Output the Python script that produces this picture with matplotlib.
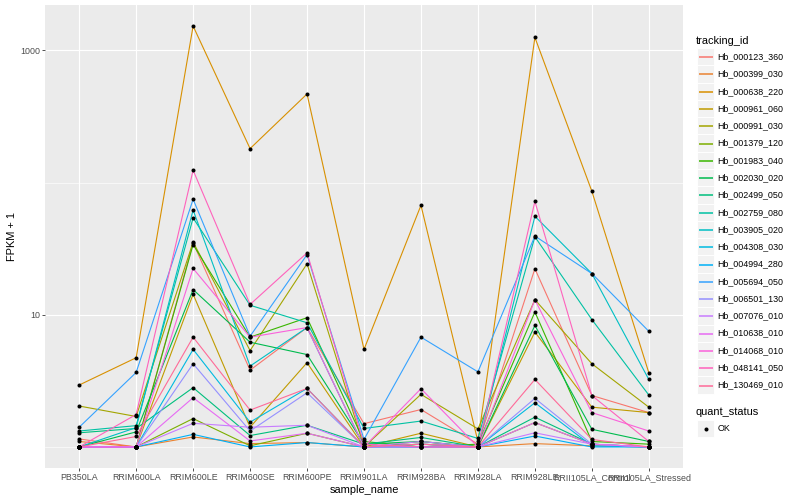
import numpy as np
import matplotlib
matplotlib.use("Agg")
import matplotlib.pyplot as plt
from matplotlib.patches import Rectangle

plt.rcParams['font.family'] = ['Liberation Sans', 'DejaVu Sans']

samples = ["PB350LA", "RRIM600LA", "RRIM600LE", "RRIM600SE", "RRIM600PE",
           "RRIM901LA", "RRIM928BA", "RRIM928LA", "RRIM928LE",
           "RRII105LA_Control", "RRII105LA_Stressed"]

tracking_ids = ["Hb_000123_360", "Hb_000399_030", "Hb_000638_220", "Hb_000961_060",
                "Hb_000991_030", "Hb_001379_120", "Hb_001983_040", "Hb_002030_020",
                "Hb_002499_050", "Hb_002759_080", "Hb_003905_020", "Hb_004308_030",
                "Hb_004994_280", "Hb_005694_050", "Hb_006501_130", "Hb_007076_010",
                "Hb_010638_010", "Hb_014068_010", "Hb_048141_050", "Hb_130469_010"]

# FPKM + 1, one row per tracking_id, columns follow samples
fpkm1 = [
    [1.15, 1.00, 35.0, 3.81, 8.0, 1.50, 1.92, 1.05, 22.3, 2.45, 1.82],
    [1.10, 1.00, 1.19, 1.06, 1.08, 1.00, 1.05, 1.00, 1.06, 1.02, 1.00],
    [2.94, 4.73, 1528, 180.7, 468, 5.47, 67.3, 1.10, 1253, 86.0, 3.64],
    [1.00, 1.00, 14.3, 1.41, 4.34, 1.00, 1.27, 1.00, 7.4, 2.00, 1.82],
    [2.04, 1.70, 35.5, 5.36, 24.3, 1.00, 2.50, 1.37, 13.0, 4.26, 2.00],
    [1.00, 1.00, 1.64, 1.02, 1.27, 1.00, 1.10, 1.00, 1.53, 1.05, 1.00],
    [1.00, 1.00, 34.0, 6.77, 9.5, 1.10, 1.00, 1.05, 10.5, 1.10, 1.05],
    [1.00, 1.30, 15.5, 6.2, 5.0, 1.05, 1.10, 1.00, 8.3, 1.36, 1.10],
    [1.28, 1.38, 2.81, 1.22, 1.46, 1.05, 1.18, 1.00, 1.68, 1.05, 1.00],
    [1.32, 1.45, 54.0, 11.8, 8.7, 1.38, 1.57, 1.16, 38.9, 9.2, 2.47],
    [1.00, 1.40, 62.0, 4.09, 8.0, 1.00, 1.05, 1.00, 55.6, 20.5, 3.24],
    [1.00, 1.00, 5.47, 1.54, 2.77, 1.00, 1.00, 1.00, 2.16, 1.02, 1.00],
    [1.00, 1.00, 1.245, 1.00, 1.08, 1.00, 1.00, 1.00, 1.21, 1.00, 1.00],
    [1.41, 3.66, 74.8, 6.88, 28.5, 1.14, 6.77, 3.70, 39.4, 20.5, 7.5],
    [1.00, 1.00, 4.26, 1.32, 2.57, 1.00, 1.05, 1.00, 2.33, 1.05, 1.00],
    [1.00, 1.00, 1.51, 1.41, 1.46, 1.00, 1.10, 1.00, 1.28, 1.05, 1.00],
    [1.00, 1.00, 2.36, 1.11, 1.27, 1.00, 1.00, 1.00, 1.53, 1.05, 1.00],
    [1.00, 1.00, 22.4, 6.77, 8.0, 1.00, 2.76, 1.00, 13.0, 1.82, 1.32],
    [1.00, 1.76, 124.0, 11.97, 29.4, 1.05, 1.00, 1.00, 72.0, 2.45, 1.10],
    [1.00, 1.20, 6.77, 1.90, 2.77, 1.00, 1.05, 1.00, 3.24, 1.14, 1.00],
]

quant_status = ["OK"]


def hue_pal(n, c=100, l=65):
    # ggplot2 default discrete palette, polar Luv -> sRGB
    hues = np.linspace(15, 375, n + 1)[:n]
    xn, yn, zn = 95.047, 100.0, 108.883
    un = 4 * xn / (xn + 15 * yn + 3 * zn)
    vn = 9 * yn / (xn + 15 * yn + 3 * zn)
    out = []
    for h in hues:
        u = c * np.cos(np.radians(h))
        v = c * np.sin(np.radians(h))
        y = yn * ((l + 16) / 116) ** 3
        up = u / (13 * l) + un
        vp = v / (13 * l) + vn
        x = y * 9 * up / (4 * vp)
        z = y * (12 - 3 * up - 20 * vp) / (4 * vp)
        xyz = np.array([x, y, z]) / 100
        m = np.array([[3.2404542, -1.5371385, -0.4985314],
                      [-0.9692660, 1.8760108, 0.0415560],
                      [0.0556434, -0.2040259, 1.0572252]])
        rgb = m @ xyz
        rgb = np.where(rgb <= 0.0031308, 12.92 * rgb,
                       1.055 * np.power(np.clip(rgb, 0, None), 1 / 2.4) - 0.055)
        out.append(tuple(np.clip(rgb, 0, 1)))
    return out


colors = hue_pal(len(tracking_ids))

fig = plt.figure(figsize=(8, 5), dpi=100)
fig.patch.set_facecolor("white")
ax = fig.add_axes([45 / 800, 32 / 500, 638 / 800, 463 / 500])
ax.set_facecolor("#EBEBEB")

xs = np.arange(len(samples))
for vals, col in zip(fpkm1, colors):
    ax.plot(xs, vals, color=col, lw=0.8, zorder=3, solid_capstyle="butt")
for vals in fpkm1:
    ax.plot(xs, vals, "o", color="black", ms=2.9, mew=0, zorder=4)

ax.set_yscale("log")
allv = np.log10(np.array(fpkm1))
lo, hi = allv.min(), allv.max()
pad = 0.05 * (hi - lo)
ax.set_ylim(10 ** (lo - pad), 10 ** (hi + pad))
ax.set_xlim(-0.6, len(samples) - 0.4)

ax.set_yticks([10, 1000])
ax.set_yticklabels(["10", "1000"])
ax.set_yticks([1, 100], minor=True)
ax.yaxis.set_minor_formatter(matplotlib.ticker.NullFormatter())
ax.set_xticks(xs)
ax.set_xticklabels(samples)

ax.grid(True, which="major", color="white", lw=0.8)
ax.grid(True, which="minor", axis="y", color="white", lw=0.45)
ax.set_axisbelow(True)
ax.tick_params(axis="both", which="major", length=2.0, width=0.6, color="#333333",
               labelsize=6.4, labelcolor="#4D4D4D", pad=1.5)
ax.tick_params(axis="y", which="minor", length=0)
for s in ax.spines.values():
    s.set_visible(False)

ax.set_xlabel("sample_name", fontsize=7.9, color="black", labelpad=2)
ax.set_ylabel("FPKM + 1", fontsize=7.9, color="black", labelpad=2)

# legend drawn in pixel coordinates
lax = fig.add_axes([0, 0, 1, 1], zorder=5)
lax.set_xlim(0, 800)
lax.set_ylim(500, 0)
lax.axis("off")

lax.text(696, 40.5, "tracking_id", fontsize=7.9, va="center", ha="left")
key = 17.28
y0 = 56.7
for i, (tid, col) in enumerate(zip(tracking_ids, colors)):
    yc = y0 + i * key
    lax.add_patch(Rectangle((697, yc - key / 2), key, key, facecolor="#F2F2F2",
                            edgecolor="white", lw=0.7, zorder=1))
    ly = np.floor(yc) + 0.5
    lax.plot([698.7, 712.6], [ly, ly], color=col, lw=1.1, zorder=3,
             solid_capstyle="butt")
    lax.text(717.5, yc, tid, fontsize=6.4, va="center", ha="left", color="black")

lax.text(696, 411.7, "quant_status", fontsize=7.9, va="center", ha="left")
for j, q in enumerate(quant_status):
    yc = 428.5 + j * key
    lax.add_patch(Rectangle((697, yc - key / 2), key, key, facecolor="#F2F2F2",
                            edgecolor="white", lw=0.7, zorder=1))
    lax.plot([705.6], [yc], "o", color="black", ms=2.9, mew=0, zorder=3)
    lax.text(717.5, yc, q, fontsize=6.4, va="center", ha="left", color="black")

fig.savefig("out.png", dpi=100)
